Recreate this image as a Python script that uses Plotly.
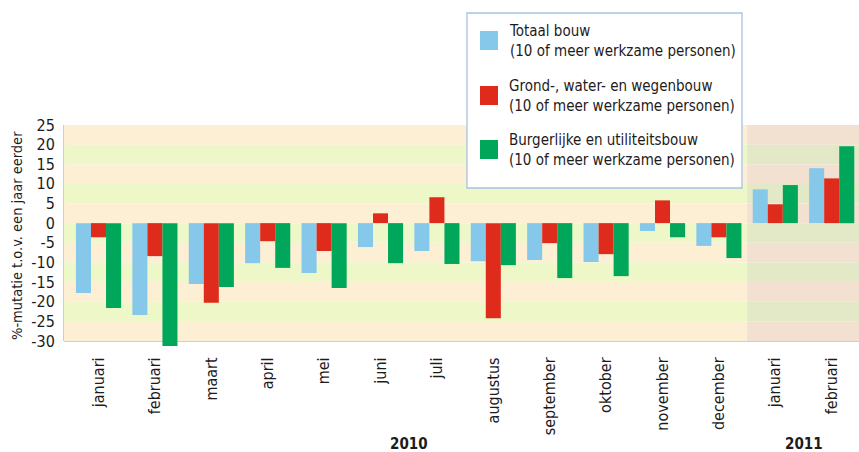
import plotly.graph_objects as go

months = ["januari", "februari", "maart", "april", "mei", "juni", "juli", "augustus",
          "september", "oktober", "november", "december", "januari", "februari"]
years = ["2010", "2011"]

totaal_bouw = [-17.8, -23.4, -15.5, -10.2, -12.7, -6.1, -7.1, -9.7, -9.4, -9.9, -2.0, -5.8, 8.6, 14.0]
grond_water_wegenbouw = [-3.6, -8.4, -20.3, -4.6, -7.1, 2.5, 6.6, -24.2, -5.1, -7.9, 5.8, -3.6, 4.8, 11.4]
burgerlijke_utiliteitsbouw = [-21.6, -31.3, -16.3, -11.4, -16.5, -10.2, -10.4, -10.7, -14.0, -13.5, -3.6, -8.9, 9.7, 19.6]

series_names = [
    "Totaal bouw<br>(10 of meer werkzame personen)",
    "Grond-, water- en wegenbouw<br>(10 of meer werkzame personen)",
    "Burgerlijke en utiliteitsbouw<br>(10 of meer werkzame personen)",
]
y_ticks = [25, 20, 15, 10, 5, 0, -5, -10, -15, -20, -25, -30]
y_title = "%-mutatie t.o.v. een jaar eerder"

FONT = "Liberation Sans Narrow, Arial Narrow, DejaVu Sans Condensed, sans-serif"
TXT = "#1e1b1c"
colors = ["#85c8e9", "#de2b1c", "#00a65a"]
BORDER = "#a6c3e3"

x = list(range(len(months)))
XR = [-0.612, 13.484]
YR = [-31.3, 25]          # a little room below -30 so the deepest bar pokes through the frame
FRAME_BOTTOM = -30
split = 11.5  # boundary between 2010 and 2011

T, B = 125, 106
PB = 452 - B  # plot-area bottom in px

fig = go.Figure()
for name, vals, col in zip(series_names, [totaal_bouw, grond_water_wegenbouw, burgerlijke_utiliteitsbouw], colors):
    fig.add_trace(go.Bar(x=x, y=vals, name=name, marker=dict(color=col, line=dict(width=0)),
                         showlegend=False, hoverinfo="skip"))

shapes = []
band_cols = [("#fdefd4", "#f2e1d0"), ("#eef7c7", "#e3e9c6")]
for i in range(11):
    top = 25 - 5 * i
    c2010, c2011 = band_cols[i % 2]
    shapes.append(dict(type="rect", xref="x", yref="y", x0=XR[0], x1=split, y0=top - 5, y1=top,
                       fillcolor=c2010, line=dict(width=0), layer="below"))
    shapes.append(dict(type="rect", xref="x", yref="y", x0=split, x1=XR[1], y0=top - 5, y1=top,
                       fillcolor=c2011, line=dict(width=0), layer="below"))

# frame (left, top, bottom)
frame_line = dict(color=BORDER, width=1.5)
shapes.append(dict(type="line", xref="paper", yref="y", x0=0, x1=0, y0=FRAME_BOTTOM, y1=YR[1],
                   line=frame_line, layer="below"))
shapes.append(dict(type="line", xref="paper", yref="y", x0=0, x1=1, y0=YR[1], y1=YR[1],
                   line=frame_line, layer="below"))
shapes.append(dict(type="line", xref="paper", yref="y", x0=0, x1=1, y0=FRAME_BOTTOM, y1=FRAME_BOTTOM,
                   line=frame_line, layer="below"))


def px2x(p):
    return (p - 64) / 795.0


def py2y(p):
    return (PB - p) / float(PB - T)


# custom legend box
shapes.append(dict(type="rect", xref="paper", yref="paper", x0=px2x(467), x1=px2x(742),
                   y0=py2y(188), y1=py2y(13), fillcolor="white", line=dict(color=BORDER, width=1.3)))
annotations = []
sq_tops = [31, 86, 140]
for top, col, name in zip(sq_tops, colors, series_names):
    shapes.append(dict(type="rect", xref="paper", yref="paper", x0=px2x(480), x1=px2x(498),
                       y0=py2y(top + 19), y1=py2y(top), fillcolor=col, line=dict(width=0)))
    annotations.append(dict(xref="paper", yref="paper", x=px2x(507), y=py2y(top + 10),
                            xanchor="left", yanchor="middle", align="left", showarrow=False,
                            text=name, font=dict(family=FONT, size=15, color=TXT)))

# year labels
annotations.append(dict(xref="x", yref="paper", x=5.5, y=py2y(444), text="<b>" + years[0] + "</b>",
                        showarrow=False, xanchor="center", yanchor="middle",
                        font=dict(family=FONT, size=15, color=TXT)))
annotations.append(dict(xref="x", yref="paper", x=12.5, y=py2y(444), text="<b>" + years[1] + "</b>",
                        showarrow=False, xanchor="center", yanchor="middle",
                        font=dict(family=FONT, size=15, color=TXT)))
# y title
annotations.append(dict(xref="paper", yref="paper", x=px2x(17), y=py2y(236), text=y_title,
                        textangle=-90, showarrow=False, xanchor="center", yanchor="middle",
                        font=dict(family=FONT, size=14.5, color=TXT)))

fig.update_layout(
    width=859, height=452,
    margin=dict(l=64, r=0, t=T, b=B, autoexpand=False),
    paper_bgcolor="white", plot_bgcolor="white",
    barmode="group", bargap=0.2, bargroupgap=0,
    shapes=shapes, annotations=annotations,
    font=dict(family=FONT, color=TXT),
    hovermode=False,
    xaxis=dict(range=XR, tickmode="array", tickvals=x, ticktext=months, tickangle=-90,
               tickfont=dict(family=FONT, size=16, color=TXT), showgrid=False, zeroline=False,
               showline=False, ticks="outside", ticklen=4, tickcolor="rgba(0,0,0,0)", automargin=False),
    yaxis=dict(range=YR, tickmode="array", tickvals=y_ticks, ticktext=[str(v) for v in y_ticks],
               tickfont=dict(family=FONT, size=16, color=TXT), showgrid=False, zeroline=False,
               showline=False, ticks="outside", ticklen=5, tickcolor="rgba(0,0,0,0)", automargin=False),
)

fig.write_html("out.html", config={"displayModeBar": False},
               post_script="document.body.style.margin='0';document.body.style.overflow='hidden';")
